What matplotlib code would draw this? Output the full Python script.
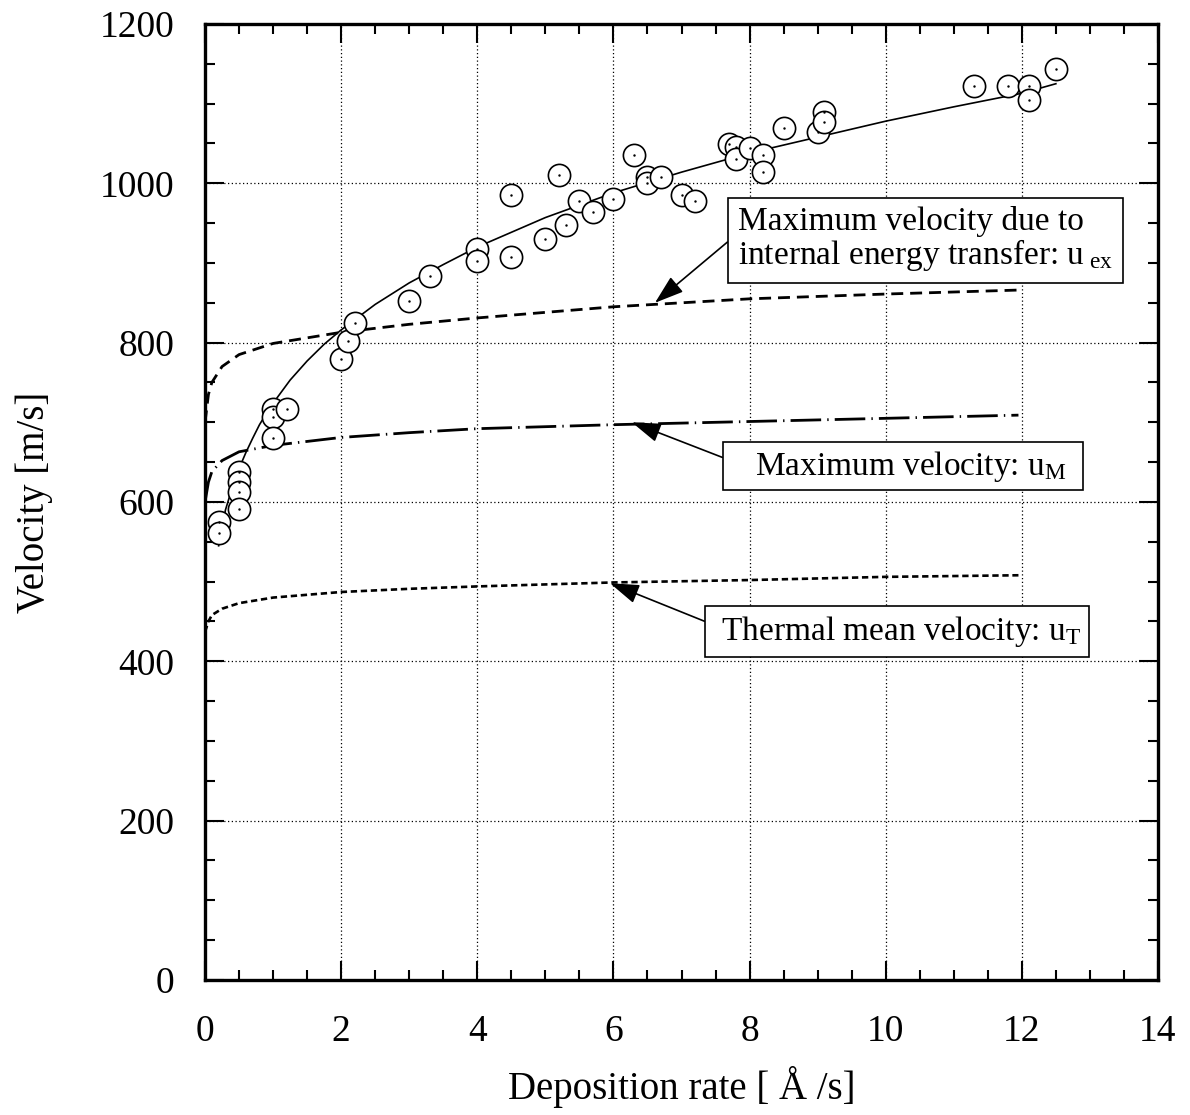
import matplotlib
matplotlib.use("Agg")
import matplotlib.pyplot as plt
from matplotlib.ticker import MultipleLocator

plt.rcParams["font.family"] = ["Liberation Serif", "DejaVu Serif"]
plt.rcParams["mathtext.fontset"] = "custom"
plt.rcParams["mathtext.rm"] = "Liberation Serif"
plt.rcParams["mathtext.it"] = "Liberation Serif:italic"

# measured points (deposition rate [A/s], velocity [m/s])
rate_meas = [0.21, 0.21, 0.5, 0.5, 0.5, 0.5, 1.0, 1.0, 1.0, 1.2,
             2.0, 2.1, 2.2, 3.0, 3.3, 4.0, 4.0, 4.5, 4.5, 5.0,
             5.3, 5.2, 5.5, 5.7, 6.0, 6.3, 6.5, 6.5, 6.7, 7.0,
             7.2, 7.7, 7.8, 7.8, 8.0, 8.2, 8.2, 8.5, 9.0, 9.1,
             9.1, 11.3, 11.8, 12.1, 12.1, 12.5]
vel_meas = [575, 561, 638, 625, 613, 591, 717, 707, 680, 717,
            779, 802, 825, 852, 884, 918, 902, 907, 985, 930,
            948, 1010, 978, 964, 980, 1035, 1008, 1000, 1008, 985,
            978, 1049, 1045, 1030, 1044, 1035, 1014, 1069, 1065, 1090,
            1077, 1122, 1122, 1122, 1105, 1144]

# fitted curve through the measurements
rate_fit = [0.2, 0.3, 0.4, 0.5, 0.6, 0.7, 0.8, 0.9, 1.0, 1.25, 1.5, 1.75,
            2.0, 2.5, 3.0, 3.5, 4.0, 5.0, 6.0, 7.0, 8.0, 9.0, 10.0, 11.0,
            12.0, 12.5]
vel_fit = [545, 590, 618, 642, 662, 680, 697, 711, 724, 753, 777, 798,
           816, 848, 875, 898, 920, 957, 988, 1014, 1038, 1058, 1078, 1096,
           1113, 1125]

# model curves
rate_model = [0.0, 0.05, 0.1, 0.25, 0.5, 1.0, 2.0, 3.0, 4.0, 6.0, 8.0, 10.0, 11.95]
vel_ex = [700, 735, 750, 770, 785, 799, 813, 823, 831, 845, 855, 861, 866]
vel_M = [600, 625, 638, 652, 663, 671, 681, 687, 692, 697, 701, 705, 709]
vel_T = [437, 450, 458, 466, 473, 480, 487, 491, 494, 499, 502, 506, 508]

fig = plt.figure(figsize=(11.9, 11.15), dpi=100)
ax = fig.add_axes([0.1723, 0.1211, 0.8008, 0.8574])

ax.plot(rate_model, vel_ex, color="black", lw=2.0, dashes=(4.3, 2.5), zorder=3)
ax.plot(rate_model, vel_M, color="black", lw=2.0, dashes=(11, 2.2, 0.5, 2.2), zorder=3)
ax.plot(rate_model, vel_T, color="black", lw=1.9, dashes=(2.4, 1.4), zorder=3)
ax.plot(rate_fit, vel_fit, color="black", lw=1.2, zorder=4)
ax.plot(rate_meas, vel_meas, "o", ms=16, mfc="white", mec="black", mew=1.2,
        linestyle="none", zorder=5)
ax.plot(rate_meas, vel_meas, ".", ms=1.5, color="black", linestyle="none", zorder=6)

ax.set_xlim(0, 14)
ax.set_ylim(0, 1200)
ax.xaxis.set_major_locator(MultipleLocator(2))
ax.xaxis.set_minor_locator(MultipleLocator(0.5))
ax.yaxis.set_major_locator(MultipleLocator(200))
ax.yaxis.set_minor_locator(MultipleLocator(50))
ax.tick_params(which="both", direction="in", top=True, right=True,
               labelsize=27, width=1.5)
ax.tick_params(which="major", length=14)
ax.tick_params(which="minor", length=7)
ax.tick_params(axis="x", pad=25)
ax.tick_params(axis="y", pad=22)
for spine in ax.spines.values():
    spine.set_linewidth(2.4)
ax.grid(True, which="major", color="black", linestyle=(0, (1, 2)), lw=0.9)

ax.set_xlabel("Deposition rate [ Å /s]", fontsize=28, labelpad=12)
ax.set_ylabel("Velocity [m/s]", fontsize=28, labelpad=34)

box = dict(boxstyle="square,pad=0.3", fc="white", ec="black", lw=1.2)
arrow = dict(arrowstyle="-|>,head_length=0.75,head_width=0.25", color="black",
             lw=1.2, shrinkA=0, shrinkB=0)

ax.annotate("Maximum velocity due to\ninternal energy transfer: u$_{\\ \\mathrm{ex}}$",
            xy=(6.61, 850), xytext=(7.83, 929), ha="left", va="center",
            fontsize=24, linespacing=1.0, bbox=box,
            arrowprops=dict(arrow, relpos=(0, 0.6)), zorder=7)
ax.annotate("   Maximum velocity: u$_{\\mathrm{M}}$  ",
            xy=(6.27, 700), xytext=(10.25, 645), ha="center", va="center",
            fontsize=24, bbox=dict(box, boxstyle="square,pad=0.2"),
            arrowprops=dict(arrow, relpos=(0, 0.67)), zorder=7)
ax.annotate(" Thermal mean velocity: u$_{\\mathrm{T}}$",
            xy=(5.95, 498), xytext=(10.17, 438), ha="center", va="center",
            fontsize=24, bbox=dict(box, boxstyle="square,pad=0.24"),
            arrowprops=dict(arrow, relpos=(0, 0.68)), zorder=7)

fig.savefig("out.png", dpi=100)
